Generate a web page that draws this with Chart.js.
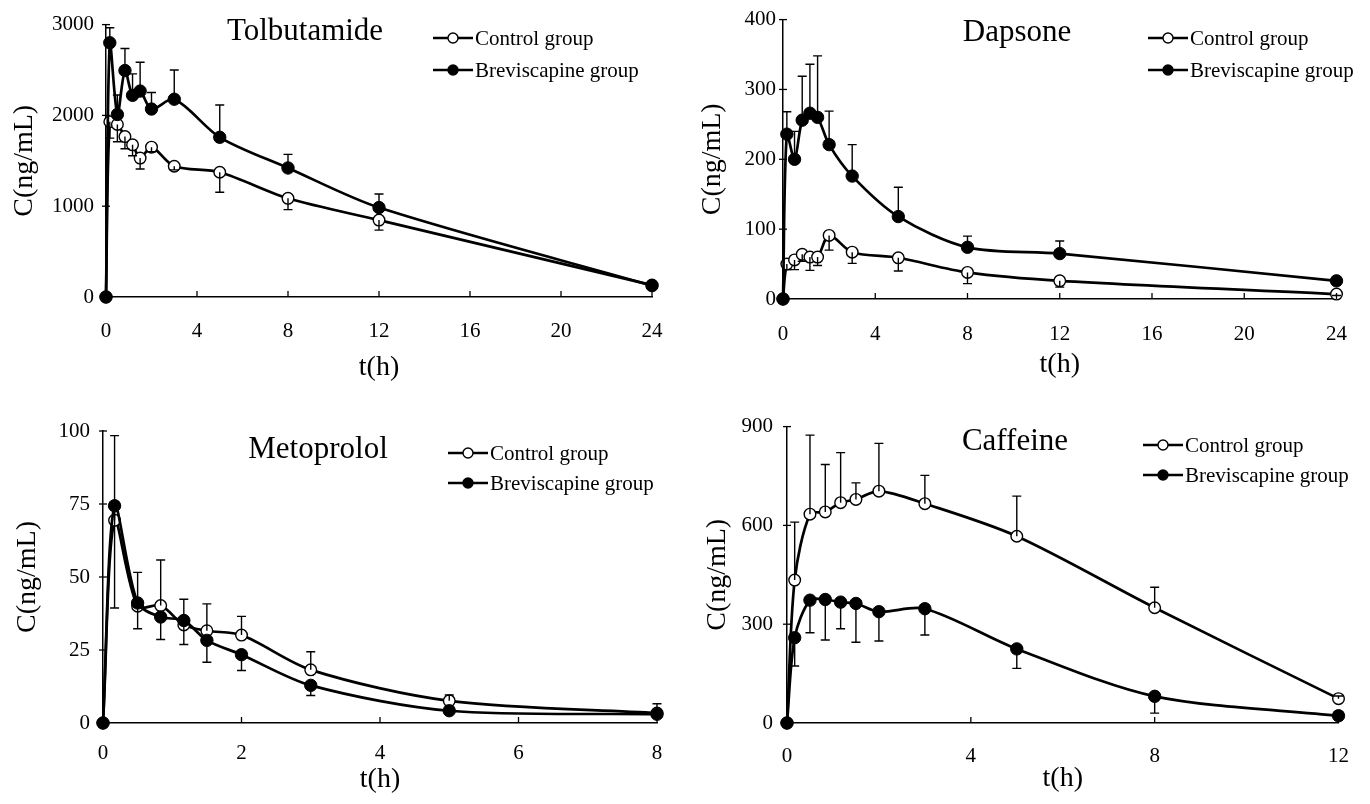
<!DOCTYPE html>
<html lang="en">
<head>
<meta charset="UTF-8" />
<title>Plasma concentration curves</title>
<script src="https://cdn.jsdelivr.net/npm/chart.js"></script>
<style>
    body { margin: 0; background: #fff; }
    #wrap { position: relative; width: 1370px; height: 804px; }
    canvas { position: absolute; }
</style>
</head>
<body>
<div id="wrap">
    <canvas id="tolb" width="685" height="400" style="left:0;top:0"></canvas>
    <canvas id="dap" width="685" height="400" style="left:685px;top:0"></canvas>
    <canvas id="meto" width="685" height="404" style="left:0;top:400px"></canvas>
    <canvas id="caff" width="685" height="404" style="left:685px;top:400px"></canvas>
</div>
<script>
// sampling times (h)
const timeFull = [0, 0.167, 0.5, 0.833, 1.167, 1.5, 2, 3, 5, 8, 12, 24];
const timeMeto = [0, 0.167, 0.5, 0.833, 1.167, 1.5, 2, 3, 5, 8];
const timeCaff = [0, 0.167, 0.5, 0.833, 1.167, 1.5, 2, 3, 5, 8, 12];

// Tolbutamide (ng/mL)
const tolbControl   = [0, 1930, 1900, 1767, 1676, 1530, 1650, 1440, 1374, 1087, 847, 131];
const tolbControlSD = [0, 180, 190, 135, 120, 120, 50, 40, 220, 125, 110, 30];
const tolbBrev      = [0, 2800, 2010, 2494, 2221, 2268, 2070, 2178, 1759, 1421, 985, 125];
const tolbBrevSD    = [0, 165, 215, 243, 236, 317, 182, 322, 355, 150, 150, 40];

// Dapsone
const dapControl   = [0, 50, 56, 64, 60, 60, 91, 67, 59, 38, 26, 7];
const dapControlSD = [0, 8, 14, 10, 19, 12, 21, 16, 19, 16, 9, 2];
const dapBrev      = [0, 236, 200, 256, 266, 260, 221, 176, 118, 74, 65, 26];
const dapBrevSD    = [0, 32, 40, 63, 70, 88, 48, 45, 42, 16, 18, 3];

// Metoprolol
const metoControl   = [0, 69.4, 40, 40.2, 33.6, 31.6, 30.1, 18.2, 7.6, 3.4];
const metoControlSD = [0, 29, 11.6, 15.6, 8.8, 9.2, 6.4, 6.2, 2, 3.2];
const metoBrev      = [0, 74.4, 41.1, 36.3, 35.1, 28.3, 23.4, 12.9, 4.2, 3.0];
const metoBrevSD    = [0, 35, 8.8, 7.7, 8.2, 7.5, 5.4, 3.5, 1, 1];

// Caffeine
const caffControl   = [0, 434, 634, 641, 669, 679, 704, 666, 567, 350, 74];
const caffControlSD = [0, 176, 240, 144, 152, 50, 145, 86, 122, 62, 8];
const caffBrev      = [0, 259, 373, 375, 367, 363, 338, 347, 225, 81, 22];
const caffBrevSD    = [0, 86, 99, 123, 81, 118, 89, 80, 59, 51, 4];

const FONT = "'Liberation Serif', 'Times New Roman', serif";

function pts(xs, ys) {
    return xs.map((x, i) => ({ x: x, y: ys[i] }));
}

// error bars, tick marks, title and legend
const panelDecor = {
    id: 'panelDecor',
    afterDatasetsDraw(chart, args, opts) {
        const ctx = chart.ctx;
        const xs = chart.scales.x, ys = chart.scales.y;
        ctx.save();
        ctx.strokeStyle = '#000';
        ctx.lineWidth = 1.4;
        chart.data.datasets.forEach(ds => {
            ds.data.forEach((p, i) => {
                const sd = ds.sd[i];
                if (!sd) return;
                const px = xs.getPixelForValue(p.x);
                const y0 = ys.getPixelForValue(p.y);
                const y1 = ys.getPixelForValue(p.y + ds.dir * sd);
                ctx.beginPath();
                ctx.moveTo(px, y0); ctx.lineTo(px, y1);
                ctx.moveTo(px - 4.5, y1); ctx.lineTo(px + 4.5, y1);
                ctx.stroke();
            });
        });
        // inward tick marks
        ctx.lineWidth = 1.3;
        xs.ticks.forEach(t => {
            if (t.value === xs.min) return;
            const px = xs.getPixelForValue(t.value);
            ctx.beginPath();
            ctx.moveTo(px, xs.top); ctx.lineTo(px, xs.top - 6);
            ctx.stroke();
        });
        ys.ticks.forEach(t => {
            if (t.value === ys.min) return;
            const py = ys.getPixelForValue(t.value);
            ctx.beginPath();
            ctx.moveTo(ys.right - 4, py); ctx.lineTo(ys.right + 4, py);
            ctx.stroke();
        });
        // title
        ctx.fillStyle = '#000';
        ctx.font = '31px ' + FONT;
        ctx.textAlign = 'center';
        ctx.textBaseline = 'alphabetic';
        ctx.fillText(opts.title, opts.titleX, opts.titleY);
        // legend
        ctx.font = '21px ' + FONT;
        ctx.textAlign = 'left';
        ctx.textBaseline = 'middle';
        const items = [
            { label: 'Control group', fill: '#fff', y: opts.legY1 },
            { label: 'Breviscapine group', fill: '#000', y: opts.legY2 }
        ];
        items.forEach(it => {
            ctx.lineWidth = 2.5;
            ctx.beginPath();
            ctx.moveTo(opts.legX, it.y); ctx.lineTo(opts.legX + 40, it.y);
            ctx.stroke();
            ctx.beginPath();
            ctx.arc(opts.legX + 20, it.y, 5, 0, Math.PI * 2);
            ctx.fillStyle = it.fill;
            ctx.fill();
            ctx.lineWidth = 1.4;
            ctx.stroke();
            ctx.fillStyle = '#000';
            ctx.fillText(it.label, opts.legX + 42, it.y + 1);
        });
        ctx.restore();
    }
};

function makePanel(id, p) {
    const canvas = document.getElementById(id);
    const H = canvas.height, W = canvas.width;
    return new Chart(canvas, {
        type: 'line',
        data: {
            datasets: [
                {
                    label: 'Breviscapine group',
                    data: pts(p.time, p.brev),
                    sd: p.brevSD, dir: p.brevDir,
                    borderColor: '#000', borderWidth: 2.7,
                    pointBackgroundColor: '#000', pointBorderColor: '#000',
                    pointRadius: 6.2, pointBorderWidth: 1,
                    tension: 0.3, clip: false
                },
                {
                    label: 'Control group',
                    data: pts(p.time, p.control),
                    sd: p.controlSD, dir: -p.brevDir,
                    borderColor: '#000', borderWidth: 2.7,
                    pointBackgroundColor: '#fff', pointBorderColor: '#000',
                    pointRadius: 5.8, pointBorderWidth: 1.4,
                    tension: 0.3, clip: false
                }
            ]
        },
        options: {
            responsive: false,
            animation: false,
            events: [],
            layout: { padding: { left: 0, top: p.top, right: W - p.right, bottom: 0 } },
            plugins: {
                legend: { display: false },
                tooltip: { enabled: false },
                panelDecor: {
                    title: p.title, titleX: p.titleX, titleY: p.titleY,
                    legX: p.legX, legY1: p.legY1, legY2: p.legY2
                }
            },
            scales: {
                x: {
                    type: 'linear', min: 0, max: p.xMax,
                    afterFit: s => { s.height = H - p.bottom; },
                    grid: { display: false, drawTicks: false },
                    border: { display: true, color: '#000', width: 1.5 },
                    ticks: { stepSize: p.xStep, color: '#000', padding: p.xTickPad, callback: v => String(v), font: { family: FONT, size: 21 } },
                    title: { display: true, text: 't(h)', color: '#000', padding: { top: 0, bottom: p.xTitlePad }, font: { family: FONT, size: 28 } }
                },
                y: {
                    min: 0, max: p.yMax,
                    afterFit: s => { s.width = p.left; },
                    grid: { display: false, drawTicks: false },
                    border: { display: true, color: '#000', width: 1.5 },
                    ticks: { stepSize: p.yStep, color: '#000', padding: p.yTickPad, callback: v => String(v), font: { family: FONT, size: 21 } },
                    title: { display: true, text: 'C(ng/mL)', color: '#000', padding: { top: p.yTitlePad, bottom: 0 }, font: { family: FONT, size: 28 } }
                }
            }
        },
        plugins: [panelDecor]
    });
}

makePanel('tolb', {
    time: timeFull, control: tolbControl, controlSD: tolbControlSD, brev: tolbBrev, brevSD: tolbBrevSD, brevDir: 1,
    xMax: 24, xStep: 4, yMax: 3000, yStep: 1000,
    left: 106, right: 652, top: 22, bottom: 297,
    xTickPad: 22, yTickPad: 12, xTitlePad: 16, yTitlePad: 8,
    title: 'Tolbutamide', titleX: 305, titleY: 40, legX: 433, legY1: 38, legY2: 70
});
makePanel('dap', {
    time: timeFull, control: dapControl, controlSD: dapControlSD, brev: dapBrev, brevSD: dapBrevSD, brevDir: 1,
    xMax: 24, xStep: 4, yMax: 400, yStep: 100,
    left: 98, right: 655, top: 15, bottom: 299,
    xTickPad: 23, yTickPad: 7, xTitlePad: 19, yTitlePad: 11,
    title: 'Dapsone', titleX: 1017 - 685, titleY: 41, legX: 463, legY1: 38, legY2: 70
});
makePanel('meto', {
    time: timeMeto, control: metoControl, controlSD: metoControlSD, brev: metoBrev, brevSD: metoBrevSD, brevDir: -1,
    xMax: 8, xStep: 2, yMax: 100, yStep: 25,
    left: 103, right: 657, top: 31, bottom: 323,
    xTickPad: 18, yTickPad: 13, xTitlePad: 8, yTitlePad: 11,
    title: 'Metoprolol', titleX: 318, titleY: 58, legX: 448, legY1: 53, legY2: 83
});
makePanel('caff', {
    time: timeCaff, control: caffControl, controlSD: caffControlSD, brev: caffBrev, brevSD: caffBrevSD, brevDir: -1,
    xMax: 12, xStep: 4, yMax: 900, yStep: 300,
    left: 102, right: 657, top: 20, bottom: 323,
    xTickPad: 21, yTickPad: 14, xTitlePad: 9, yTitlePad: 16,
    title: 'Caffeine', titleX: 330, titleY: 50, legX: 458, legY1: 45, legY2: 75
});
</script>
</body>
</html>
